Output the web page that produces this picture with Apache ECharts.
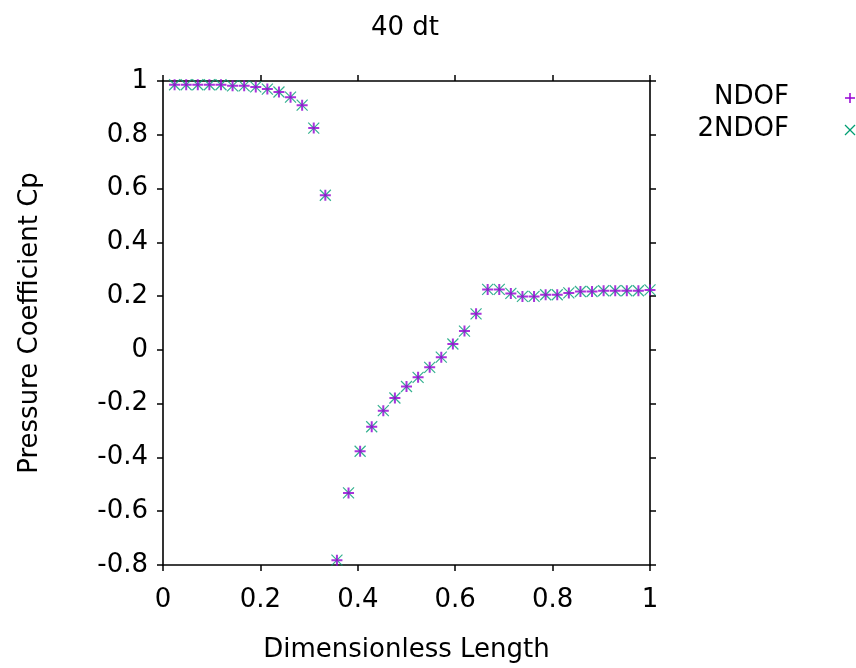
<!DOCTYPE html>
<html>
<head>
<meta charset="utf-8">
<script src="https://cdn.jsdelivr.net/npm/echarts@6/dist/echarts.min.js"></script>
<style>
html,body{margin:0;padding:0;background:#fff;}
#chart{width:856px;height:668px;}
</style>
</head>
<body>
<div id="chart"></div>
<script>
// Data
var titleText = '40 dt';
var seriesNames = ['NDOF', '2NDOF'];
var xValues = [
  1/42, 2/42, 3/42, 4/42, 5/42, 6/42, 7/42, 8/42, 9/42, 10/42,
  11/42, 12/42, 13/42, 14/42, 15/42, 16/42, 17/42, 18/42, 19/42, 20/42,
  21/42, 22/42, 23/42, 24/42, 25/42, 26/42, 27/42, 28/42, 29/42, 30/42,
  31/42, 32/42, 33/42, 34/42, 35/42, 36/42, 37/42, 38/42, 39/42, 40/42,
  41/42, 42/42
];
var ndof = [
  0.986, 0.986, 0.986, 0.986, 0.986, 0.982, 0.982, 0.978, 0.970, 0.959,
  0.940, 0.910, 0.825, 0.575, -0.782, -0.532, -0.377, -0.286, -0.226, -0.179,
  -0.136, -0.102, -0.065, -0.027, 0.022, 0.070, 0.134, 0.225, 0.225, 0.210,
  0.199, 0.199, 0.205, 0.205, 0.212, 0.217, 0.217, 0.220, 0.220, 0.220,
  0.220, 0.223
];
var ndof2 = [
  0.986, 0.986, 0.986, 0.986, 0.986, 0.982, 0.982, 0.978, 0.970, 0.959,
  0.940, 0.910, 0.825, 0.575, -0.782, -0.532, -0.377, -0.286, -0.226, -0.179,
  -0.136, -0.102, -0.065, -0.027, 0.022, 0.070, 0.134, 0.225, 0.225, 0.210,
  0.199, 0.199, 0.205, 0.205, 0.212, 0.217, 0.217, 0.220, 0.220, 0.220,
  0.220, 0.223
];
var xTitle = 'Dimensionless Length';
var yTitle = 'Pressure Coefficient Cp';

function pairs(xs, ys){ return xs.map(function(x,i){ return [x, ys[i]]; }); }

var FONT = 'DejaVu Sans';
var FS = 26;
var colors = ['#9400d3', '#009e73'];
var plusPath = 'path://M0,5L10,5M5,0L5,10';
var crossPath = 'path://M0,0L10,10M10,0L0,10';

var chart = echarts.init(document.getElementById('chart'), null, {renderer:'canvas'});
var axisLine = {show:true, onZero:false, lineStyle:{color:'#000', width:1.6}};
var axisTick = {show:true, inside:false, length:6, lineStyle:{color:'#000', width:1.5}};
var labelStyle = {color:'#000', fontFamily:FONT, fontSize:FS};

chart.setOption({
  animation:false,
  backgroundColor:'#fff',
  title:{text:titleText, left:400, top:10, textAlign:'center',
    textStyle:{fontFamily:FONT, fontSize:FS, fontWeight:'normal', color:'#000'}},
  grid:{left:163, right:206, top:81, bottom:100, containLabel:false},
  xAxis:[
    {type:'value', min:0, max:1, interval:0.2, position:'bottom',
     axisLine:axisLine, axisTick:axisTick, splitLine:{show:false},
     axisLabel:Object.assign({margin:22}, labelStyle),
     name:xTitle, nameLocation:'middle', nameGap:72,
     nameTextStyle:{fontFamily:FONT, fontSize:FS, color:'#000'}},
    {type:'value', min:0, max:1, interval:0.2, position:'top',
     axisLine:axisLine, axisTick:axisTick, splitLine:{show:false}, axisLabel:{show:false}}
  ],
  yAxis:[
    {type:'value', min:-0.8, max:1, interval:0.2, position:'left',
     axisLine:axisLine, axisTick:axisTick, splitLine:{show:false},
     axisLabel:Object.assign({margin:15}, labelStyle),
     name:yTitle, nameLocation:'middle', nameGap:120, nameRotate:90,
     nameTextStyle:{fontFamily:FONT, fontSize:FS, color:'#000'}},
    {type:'value', min:-0.8, max:1, interval:0.2, position:'right',
     axisLine:axisLine, axisTick:axisTick, splitLine:{show:false}, axisLabel:{show:false}}
  ],
  series:[
    {name:seriesNames[0], type:'scatter', xAxisIndex:0, yAxisIndex:0,
     data:pairs(xValues, ndof), symbol:plusPath, symbolSize:11, z:3,
     itemStyle:{color:'rgba(0,0,0,0)', borderColor:colors[0], borderWidth:2}},
    {name:seriesNames[1], type:'scatter', xAxisIndex:0, yAxisIndex:0,
     data:pairs(xValues, ndof2), symbol:crossPath, symbolSize:11, z:2,
     itemStyle:{color:'rgba(0,0,0,0)', borderColor:colors[1], borderWidth:1.2}}
  ],
  graphic:[
    {type:'text', x:789, y:97,
     style:{text:seriesNames[0], fill:'#000', font:FS + 'px "DejaVu Sans"', textAlign:'right', textVerticalAlign:'middle'}},
    {type:'text', x:789, y:129,
     style:{text:seriesNames[1], fill:'#000', font:FS + 'px "DejaVu Sans"', textAlign:'right', textVerticalAlign:'middle'}},
    {type:'group', children:[
      {type:'line', shape:{x1:845, y1:98, x2:855, y2:98}, style:{stroke:colors[0], lineWidth:1.5}},
      {type:'line', shape:{x1:850, y1:93, x2:850, y2:103}, style:{stroke:colors[0], lineWidth:1.5}},
      {type:'line', shape:{x1:845, y1:125, x2:855, y2:135}, style:{stroke:colors[1], lineWidth:1.2}},
      {type:'line', shape:{x1:855, y1:125, x2:845, y2:135}, style:{stroke:colors[1], lineWidth:1.2}}
    ]}
  ]
});
</script>
</body>
</html>
